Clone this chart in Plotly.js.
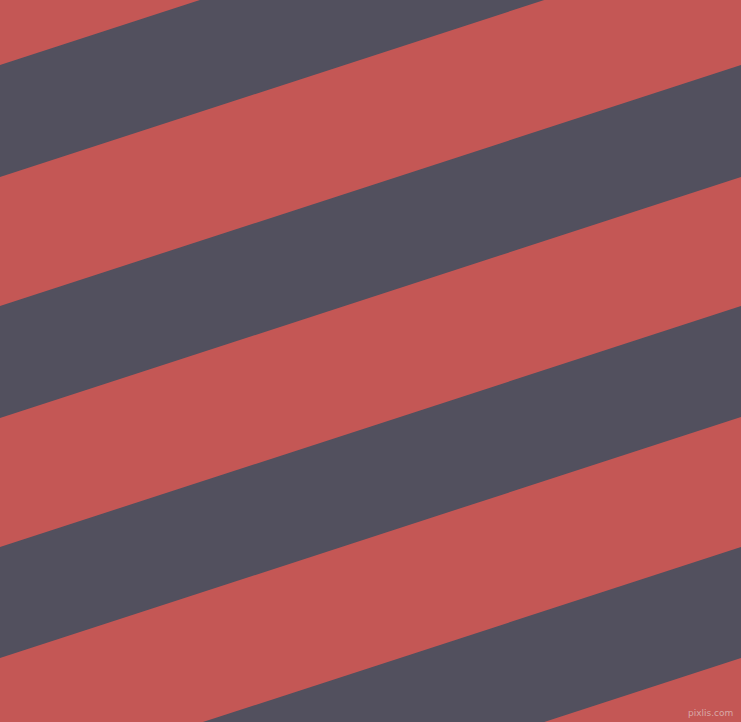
<!DOCTYPE html>
<html>
<head>
<meta charset="utf-8">
<script src="https://cdn.plot.ly/plotly-3.0.1.min.js"></script>
<style>
  html, body { margin: 0; padding: 0; background: #c45755; }
  #chart { width: 741px; height: 722px; }
</style>
</head>
<body>
<div id="chart"></div>
<script>
// Stripes: y of each dark band's top / bottom edge on the left side (x = 0)
const darkTop = [-176, 65, 306, 547, 788];
const darkBottom = [-64, 177, 418, 658, 899];
// rise across the full width (pixels, going up to the right)
const rise = 241;
const xEdges = [0, 741];

const red = "#c45755";
const dark = "#52505e";

const traces = darkTop.map((top, i) => {
  const bottom = darkBottom[i];
  return {
    type: "scatter",
    mode: "lines",
    x: [xEdges[0], xEdges[1], xEdges[1], xEdges[0], xEdges[0]],
    y: [top, top - rise, bottom - rise, bottom, top],
    fill: "toself",
    fillcolor: dark,
    line: { width: 0, color: dark },
    hoverinfo: "skip",
    showlegend: false,
  };
});

const layout = {
  width: 741,
  height: 722,
  margin: { t: 0, l: 0, r: 0, b: 0 },
  paper_bgcolor: red,
  plot_bgcolor: red,
  xaxis: { range: [0, 741], visible: false, fixedrange: true },
  yaxis: { range: [722, 0], visible: false, fixedrange: true },
  annotations: [{
    text: "pixlis.com",
    x: 1, y: 0, xref: "paper", yref: "paper",
    xanchor: "right", yanchor: "bottom",
    xshift: -6, yshift: 2,
    showarrow: false,
    font: { family: "DejaVu Sans", size: 9, color: "#d9a8a6" },
  }],
  dragmode: false,
};

Plotly.newPlot("chart", traces, layout, { displayModeBar: false, staticPlot: true });
</script>
</body>
</html>
